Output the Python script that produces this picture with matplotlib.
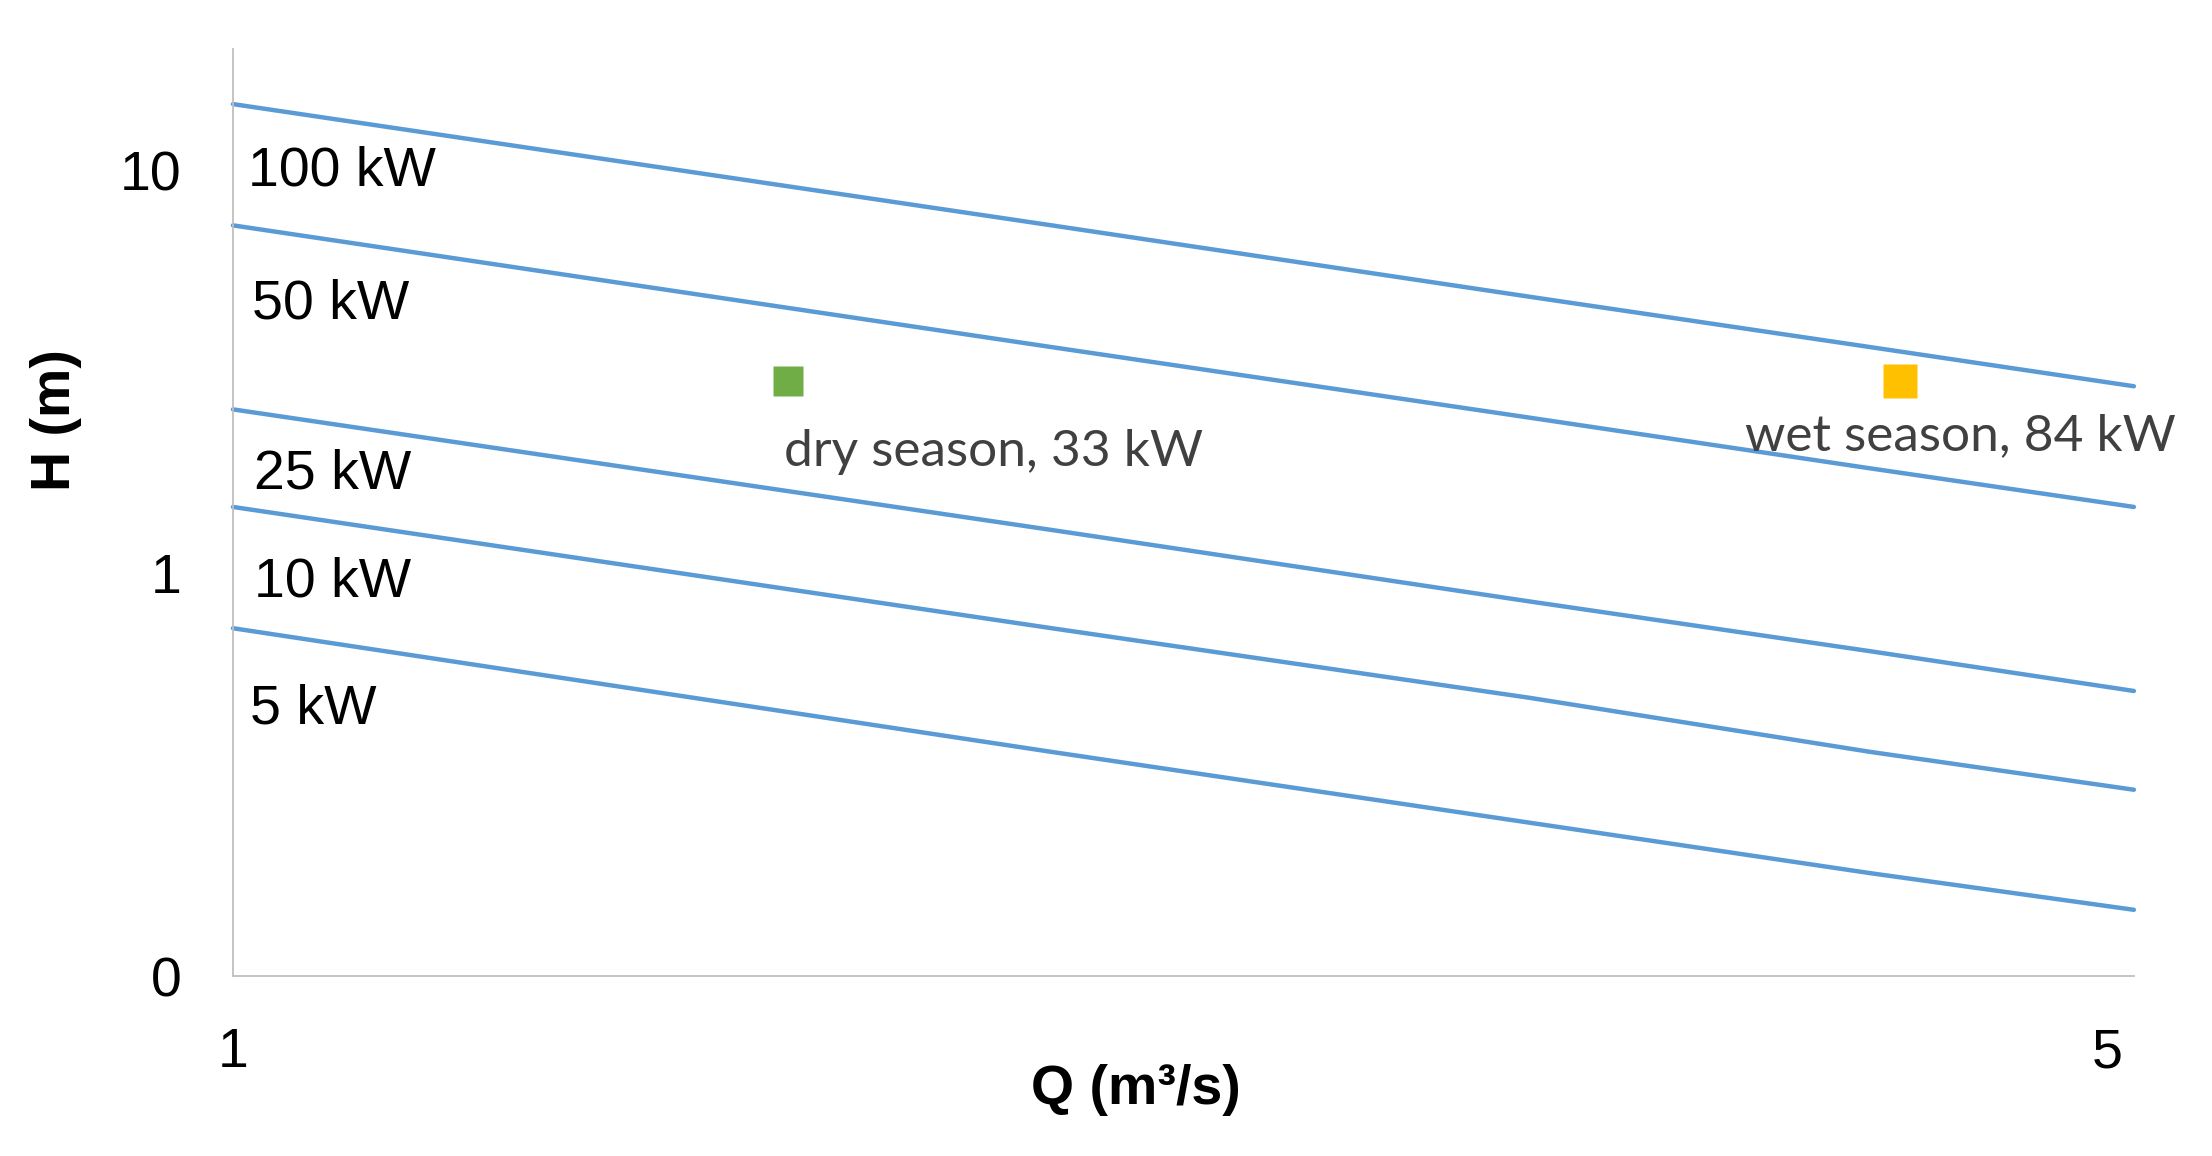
import matplotlib
matplotlib.use('Agg')
import matplotlib.pyplot as plt
from matplotlib.ticker import FixedLocator, NullLocator, FixedFormatter
from matplotlib.transforms import ScaledTranslation

# ---- data ----
Q = [1, 2, 3, 4, 5]
H_100kW = [14.6, 7.3, 4.85, 3.64, 2.91]
H_50kW = [7.3, 3.64, 2.43, 1.82, 1.46]
H_25kW = [2.55, 1.28, 0.85, 0.64, 0.51]
H_10kW = [1.46, 0.73, 0.49, 0.36, 0.29]
H_5kW = [0.73, 0.36, 0.24, 0.18, 0.146]
series_labels = ['100 kW', '50 kW', '25 kW', '10 kW', '5 kW']

dry_Q = [1.6]
dry_H = [3.0]
dry_label = 'dry season, 33 kW'
wet_Q = [4.1]
wet_H = [3.0]
wet_label = 'wet season, 84 kW'

x_ticks = [1, 5]
x_tick_labels = ['1', '5']
y_ticks = [0.1, 1, 10]
y_tick_labels = ['0', '1', '10']

# ---- layout / style ----
BLUE = '#5B9BD5'
GREEN = '#70AD47'
ORANGE = '#FFC000'
AXIS_GRAY = '#BFBFBF'
TEXT_GRAY = '#404040'
ARIAL = ['Liberation Sans', 'DejaVu Sans']
CALIBRI = ['Lato', 'DejaVu Sans']
label_pos_axes = [(0.008, 0.868), (0.010, 0.724), (0.011, 0.541), (0.011, 0.424), (0.009, 0.287)]

fig = plt.figure(figsize=(22.12, 11.56), dpi=100)
ax = fig.add_axes([0.1053, 0.1557, 0.8594, 0.8019])
ax.set_xscale('log')
ax.set_yscale('log')

series = [H_100kW, H_50kW, H_25kW, H_10kW, H_5kW]
for H in series:
    ax.plot(Q, H, color=BLUE, lw=3.2, solid_capstyle='round', clip_on=False, zorder=2)

ax.plot(dry_Q, dry_H, linestyle='none', marker='s', ms=21.5, color=GREEN, mec='none', zorder=3)
ax.plot(wet_Q, wet_H, linestyle='none', marker='s', ms=25, color=ORANGE, mec='none', zorder=3)

ax.annotate(dry_label, (dry_Q[0], dry_H[0]), xytext=(-3, -51), textcoords='offset points',
            ha='left', va='center', fontsize=37, color=TEXT_GRAY, family=CALIBRI)
ax.annotate(wet_label, (wet_Q[0], wet_H[0]), xytext=(44, -40), textcoords='offset points',
            ha='center', va='center', fontsize=37, color=TEXT_GRAY, family=CALIBRI)

for lab, (px, py) in zip(series_labels, label_pos_axes):
    ax.text(px, py, lab, transform=ax.transAxes, ha='left', va='center',
            fontsize=40, color='black', family=ARIAL)

ax.set_xlim(1, 5)
ax.set_ylim(0.1, 20)

ax.xaxis.set_major_locator(FixedLocator(x_ticks))
ax.xaxis.set_major_formatter(FixedFormatter(x_tick_labels))
ax.xaxis.set_minor_locator(NullLocator())
ax.yaxis.set_major_locator(FixedLocator(y_ticks))
ax.yaxis.set_major_formatter(FixedFormatter(y_tick_labels))
ax.yaxis.set_minor_locator(NullLocator())

ax.tick_params(axis='both', length=0, labelsize=40, colors='black')
ax.tick_params(axis='x', pad=37)
ax.tick_params(axis='y', pad=37)
for t in ax.get_xticklabels() + ax.get_yticklabels():
    t.set_family(ARIAL)
xt = ax.get_xticklabels()
xt[-1].set_ha('right')
xt[-1].set_transform(xt[-1].get_transform() + ScaledTranslation(-8 / 72, 0, fig.dpi_scale_trans))

for s in ['top', 'right']:
    ax.spines[s].set_visible(False)
for s in ['left', 'bottom']:
    ax.spines[s].set_color(AXIS_GRAY)
    ax.spines[s].set_linewidth(1.3)

ax.set_xlabel('Q (m³/s)', fontsize=40, fontweight='bold', family=ARIAL)
ax.xaxis.set_label_coords(0.475, -0.123)
ax.xaxis.label.set_va('center')
ax.set_ylabel('H (m)', fontsize=40, fontweight='bold', family=ARIAL)
ax.yaxis.set_label_coords(-0.093, 0.60)
ax.yaxis.label.set_va('center')

fig.savefig('out.png', dpi=100, facecolor='white')
